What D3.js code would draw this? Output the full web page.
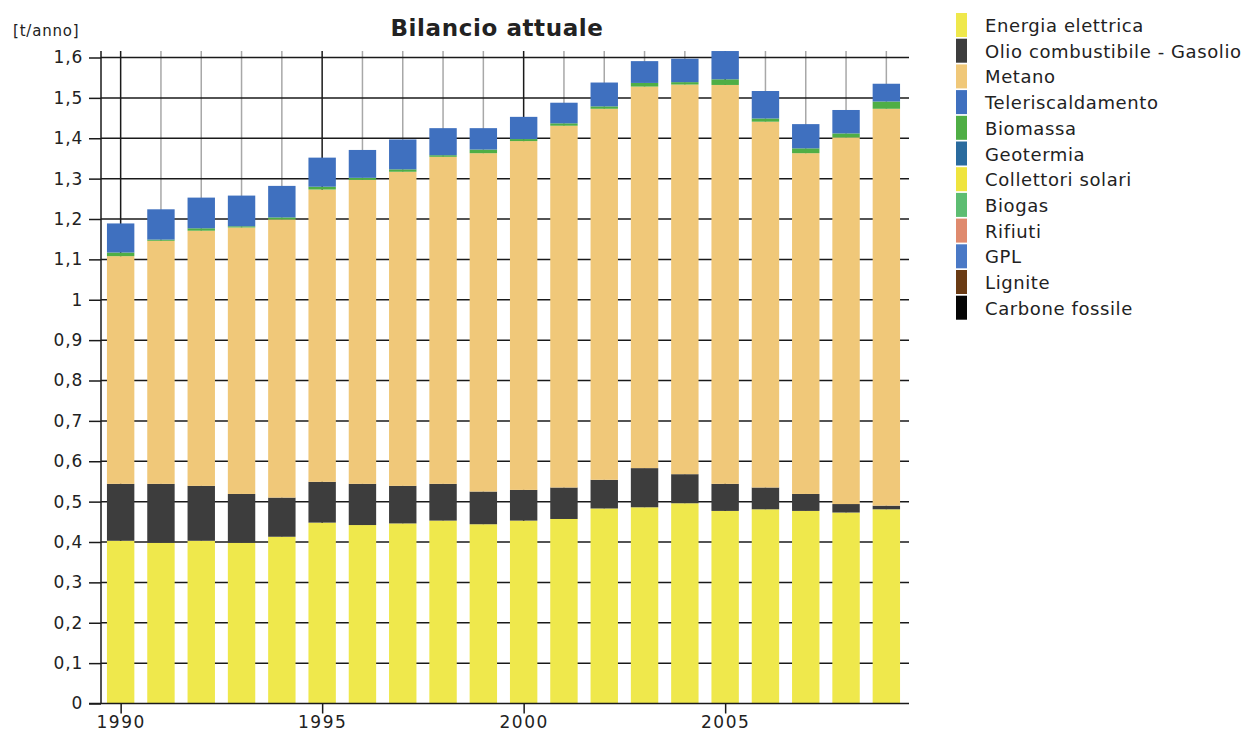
<!DOCTYPE html>
<html>
<head>
<meta charset="utf-8">
<script src="https://cdn.jsdelivr.net/npm/d3@7"></script>
<style>
  html, body { margin: 0; padding: 0; background: #fff; }
  svg { display: block; }
  text { font-family: "DejaVu Sans", Verdana, sans-serif; fill: #222; }
</style>
</head>
<body>
<svg id="chart" width="1250" height="731"></svg>
<script>
// ---- Data ----
const years = [1990,1991,1992,1993,1994,1995,1996,1997,1998,1999,2000,2001,2002,2003,2004,2005,2006,2007,2008,2009];
const energiaElettrica  = [0.403,0.398,0.403,0.398,0.413,0.448,0.442,0.446,0.453,0.444,0.453,0.457,0.483,0.486,0.496,0.477,0.481,0.477,0.473,0.481];
const olioCombustibile  = [0.141,0.146,0.136,0.121,0.097,0.101,0.102,0.093,0.091,0.081,0.076,0.078,0.071,0.097,0.072,0.067,0.054,0.042,0.021,0.009];
const metano            = [0.564,0.602,0.632,0.660,0.689,0.724,0.753,0.778,0.810,0.838,0.864,0.896,0.919,0.945,0.965,0.988,0.906,0.844,0.908,0.983];
const biomassa          = [0.009,0.003,0.006,0.003,0.005,0.007,0.005,0.006,0.004,0.009,0.005,0.006,0.006,0.009,0.006,0.014,0.008,0.012,0.010,0.018];
const teleriscaldamento = [0.072,0.075,0.076,0.076,0.078,0.072,0.069,0.074,0.067,0.053,0.055,0.051,0.059,0.054,0.058,0.070,0.068,0.060,0.058,0.044];

const legendNames  = ["Energia elettrica","Olio combustibile - Gasolio","Metano","Teleriscaldamento","Biomassa","Geotermia","Collettori solari","Biogas","Rifiuti","GPL","Lignite","Carbone fossile"];
const legendColors = ["#efe84c","#3d3d3d","#f0c879","#3f70bf","#4fae45","#2a6b9e","#efe43e","#5dbd72","#df8a6e","#4a79c6","#6a3b14","#050505"];

const yTicks = [0,0.1,0.2,0.3,0.4,0.5,0.6,0.7,0.8,0.9,1,1.1,1.2,1.3,1.4,1.5,1.6];
const xTickYears = [1990,1995,2000,2005];

// ---- Build stacked table ----
const keys = ["Energia elettrica","Olio combustibile - Gasolio","Metano","Biomassa","Teleriscaldamento"];
const seriesArrays = [energiaElettrica, olioCombustibile, metano, biomassa, teleriscaldamento];
const table = years.map((yr, i) => {
  const row = { year: yr };
  keys.forEach((k, j) => row[k] = seriesArrays[j][i]);
  return row;
});
const colorOf = k => legendColors[legendNames.indexOf(k)];

const svg = d3.select("#chart");
const plotLeft = 101, plotRight = 909, plotTop = 57.5, plotBottom = 703.5;

const x = d3.scaleBand().domain(years).range([100.5, 906.5]).paddingInner(0.32).paddingOuter(0.16);
const y = d3.scaleLinear().domain([0, 1.6]).range([plotBottom, plotTop]);
const cx = yr => x(yr) + x.bandwidth() / 2;

// vertical grid lines (behind bars)
svg.append("g").selectAll("line").data(years).join("line")
  .attr("x1", d => cx(d)).attr("x2", d => cx(d))
  .attr("y1", 51).attr("y2", plotBottom)
  .attr("stroke", d => xTickYears.includes(d) ? "#1a1a1a" : "#a8a8a8")
  .attr("stroke-width", 1.5);

// horizontal grid lines
svg.append("g").selectAll("line").data(yTicks.filter(d => d > 0)).join("line")
  .attr("x1", plotLeft).attr("x2", plotRight)
  .attr("y1", d => y(d)).attr("y2", d => y(d))
  .attr("stroke", "#1a1a1a").attr("stroke-width", 1.5);

// bars
const stack = d3.stack().keys(keys);
const stacked = stack(table);
svg.append("g").selectAll("g").data(stacked).join("g")
  .attr("fill", d => colorOf(d.key))
  .selectAll("rect").data(d => d).join("rect")
  .attr("x", d => x(d.data.year))
  .attr("width", x.bandwidth())
  .attr("y", d => y(d[1]))
  .attr("height", d => Math.max(0, y(d[0]) - y(d[1])));

// y axis
const yAxis = d3.axisLeft(y).tickValues(yTicks).tickSize(12).tickPadding(6)
  .tickFormat(d => d3.format(".1~f")(d).replace(".", ","));
const gy = svg.append("g").attr("transform", `translate(${plotLeft},0)`).call(yAxis);
gy.select(".domain").remove();
gy.selectAll(".tick line").attr("stroke", "#1a1a1a").attr("stroke-width", 1.5);
gy.selectAll(".tick text").attr("font-size", 17).attr("letter-spacing", "0.8px")
  .attr("font-family", "DejaVu Sans").attr("fill", "#222");
svg.append("line").attr("x1", plotLeft).attr("x2", plotLeft).attr("y1", 51).attr("y2", plotBottom)
  .attr("stroke", "#1a1a1a").attr("stroke-width", 1.5);

// x axis
const xPos = d3.scaleLinear().domain([years[0], years[years.length-1]]).range([cx(years[0]), cx(years[years.length-1])]);
const xAxis = d3.axisBottom(xPos).tickValues(xTickYears).tickSize(10).tickPadding(2).tickFormat(d3.format("d"));
const gx = svg.append("g").attr("transform", `translate(0,${plotBottom})`).call(xAxis);
gx.select(".domain").remove();
gx.selectAll(".tick line").attr("stroke", "#1a1a1a").attr("stroke-width", 1.5);
gx.selectAll(".tick text").attr("font-size", 17).attr("letter-spacing", "1.5px")
  .attr("font-family", "DejaVu Sans").attr("fill", "#222");
svg.append("line").attr("x1", 89).attr("x2", plotRight).attr("y1", plotBottom).attr("y2", plotBottom)
  .attr("stroke", "#1a1a1a").attr("stroke-width", 1.5);

// unit label
svg.append("text").attr("x", 13).attr("y", 36).attr("font-size", 15).attr("letter-spacing", "0.8px").text("[t/anno]");

// title
svg.append("text").attr("x", 497).attr("y", 36).attr("text-anchor", "middle")
  .attr("font-size", 23).attr("font-weight", "bold").attr("letter-spacing", "0.6px")
  .attr("fill", "#111").text("Bilancio attuale");

// legend
const lg = svg.append("g").attr("transform", "translate(956,13)");
const items = lg.selectAll("g").data(legendNames).join("g")
  .attr("transform", (d, i) => `translate(0,${i * 25.7})`);
items.append("rect").attr("width", 11).attr("height", 24).attr("fill", (d, i) => legendColors[i]);
items.append("text").attr("x", 29).attr("y", 19).attr("font-size", 18).attr("letter-spacing", "0.6px")
  .attr("fill", "#222").text(d => d);
</script>
</body>
</html>
